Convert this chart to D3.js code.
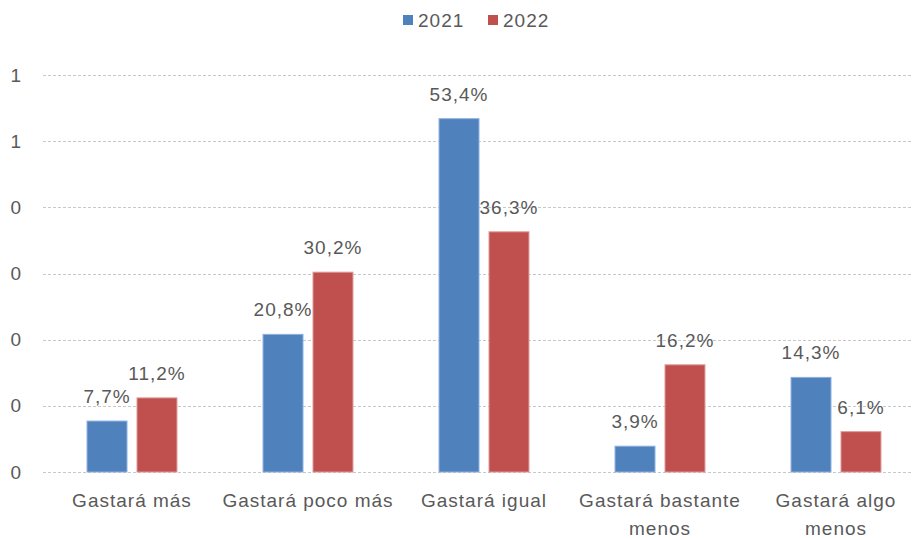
<!DOCTYPE html>
<html>
<head>
<meta charset="utf-8">
<script src="https://cdn.jsdelivr.net/npm/d3@7"></script>
<style>
  body { margin: 0; background: #fff; }
  text { font-family: 'Liberation Sans', sans-serif; fill: #595959; letter-spacing: 1px; }
</style>
</head>
<body>
<div id="graph"></div>
<script>
// categories and values (share of people, 2021 vs 2022)
var categories = [
  ['Gastará más'],
  ['Gastará poco más'],
  ['Gastará igual'],
  ['Gastará bastante', 'menos'],
  ['Gastará algo', 'menos']
];
var series = ['2021', '2022'];
var values2021 = [0.077, 0.208, 0.534, 0.039, 0.143];
var values2022 = [0.112, 0.302, 0.363, 0.162, 0.061];
var valueLabels2021 = ['7,7%', '20,8%', '53,4%', '3,9%', '14,3%'];
var valueLabels2022 = ['11,2%', '30,2%', '36,3%', '16,2%', '6,1%'];
var yTicks = [0, 0.1, 0.2, 0.3, 0.4, 0.5, 0.6];
var yTickLabels = ['0', '0', '0', '0', '0', '1', '1'];
var colors = ['#4F81BD', '#C0504D'];

var width = 912;
var height = 540;
var svg = d3.select('#graph')
  .append('svg')
  .attr('width', width)
  .attr('height', height);

var catKeys = categories.map(function(c) { return c.join(' '); });

var x0 = d3.scaleBand()
  .domain(catKeys)
  .range([44, 924])
  .paddingInner(0.489)
  .paddingOuter(0.2445);
var x1 = d3.scaleBand()
  .domain(series)
  .range([0, x0.bandwidth()])
  .paddingInner(0.2);
var y = d3.scaleLinear().domain([0, 0.6]).range([472, 75]);

// gridlines
svg.append('g')
  .selectAll('line')
  .data(yTicks)
  .enter()
  .append('line')
  .attr('x1', 43)
  .attr('x2', width)
  .attr('y1', function(d) { return Math.round(y(d)) + 0.5; })
  .attr('y2', function(d) { return Math.round(y(d)) + 0.5; })
  .attr('stroke', '#c8c8c8')
  .attr('stroke-dasharray', '3,2');

// y tick labels
svg.append('g')
  .selectAll('text')
  .data(yTicks)
  .enter()
  .append('text')
  .attr('x', 22)
  .attr('y', function(d) { return y(d); })
  .attr('dy', '0.35em')
  .attr('text-anchor', 'end')
  .style('font-size', '19px')
  .text(function(d, i) { return yTickLabels[i]; });

// bars
var rows = catKeys.map(function(k, i) {
  return [
    { cat: k, s: series[0], v: values2021[i], lab: valueLabels2021[i] },
    { cat: k, s: series[1], v: values2022[i], lab: valueLabels2022[i] }
  ];
});

var groups = svg.append('g')
  .selectAll('g')
  .data(rows)
  .enter()
  .append('g')
  .attr('transform', function(d) { return 'translate(' + x0(d[0].cat) + ',0)'; });

groups.selectAll('rect')
  .data(function(d) { return d; })
  .enter()
  .append('rect')
  .attr('x', function(d) { return x1(d.s); })
  .attr('y', function(d) { return y(d.v); })
  .attr('width', x1.bandwidth())
  .attr('height', function(d) { return y(0) - y(d.v); })
  .attr('fill', function(d, i) { return colors[i]; })
  .attr('stroke', function(d, i) { return i == 0 ? '#8fb0dc' : '#df9a98'; })
  .attr('stroke-width', 1);

// data labels
groups.selectAll('text')
  .data(function(d) { return d; })
  .enter()
  .append('text')
  .attr('x', function(d) { return x1(d.s) + x1.bandwidth() / 2; })
  .attr('y', function(d) { return y(d.v) - 18; })
  .attr('text-anchor', 'middle')
  .style('font-size', '19px')
  .text(function(d) { return d.lab; });

// x labels
var xl = svg.append('g')
  .selectAll('text')
  .data(categories)
  .enter()
  .append('text')
  .attr('x', function(d, i) { return x0(catKeys[i]) + x0.bandwidth() / 2; })
  .attr('y', 507)
  .attr('text-anchor', 'middle')
  .style('font-size', '19px');
xl.selectAll('tspan')
  .data(function(d) { return d; })
  .enter()
  .append('tspan')
  .attr('x', function() { return d3.select(this.parentNode).attr('x'); })
  .attr('dy', function(d, i) { return i == 0 ? 0 : 28; })
  .text(function(d) { return d; });

// legend
var legend = svg.append('g')
  .selectAll('g')
  .data(series)
  .enter()
  .append('g')
  .attr('transform', function(d, i) { return 'translate(' + (403 + i * 85) + ',15)'; });
legend.append('rect')
  .attr('width', 10)
  .attr('height', 10)
  .attr('fill', function(d, i) { return colors[i]; });
legend.append('text')
  .attr('x', 15)
  .attr('y', 12)
  .style('font-size', '19px')
  .text(function(d) { return d; });
</script>
</body>
</html>
